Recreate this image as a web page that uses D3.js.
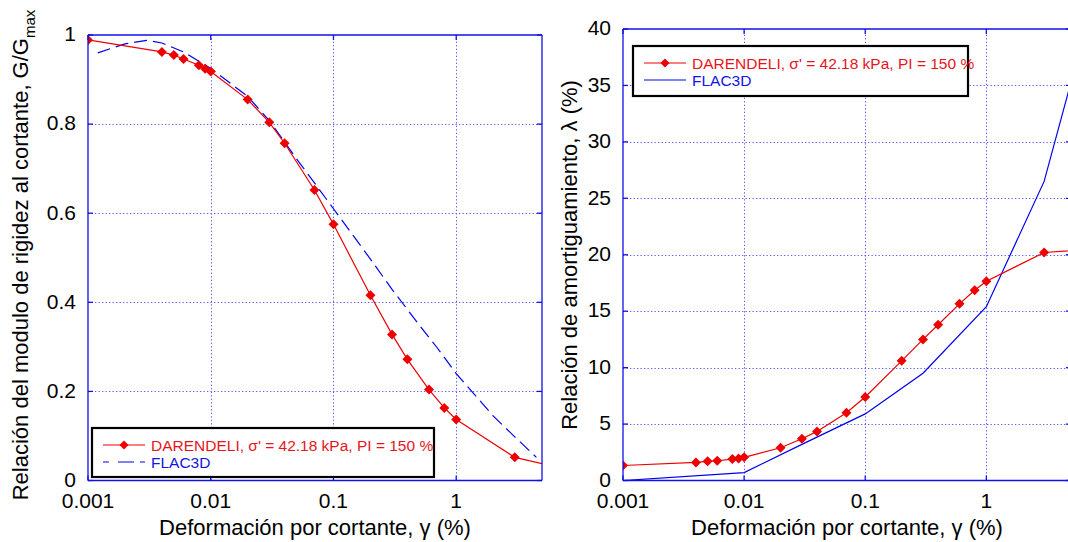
<!DOCTYPE html>
<html>
<head>
<meta charset="utf-8">
<script src="https://cdn.jsdelivr.net/npm/d3@7"></script>
<style>
  html, body { margin: 0; padding: 0; background: #fff; }
  svg { display: block; font-family: "Liberation Sans", Arial, sans-serif; }
</style>
</head>
<body>
<svg id="chart" width="1068" height="542"></svg>
<script>
// ---------- DATA ----------
const xTickValues = [0.001, 0.01, 0.1, 1];
const xTickLabels = ["0.001", "0.01", "0.1", "1"];

// Left panel: G/Gmax
const leftYTicks = [0, 0.2, 0.4, 0.6, 0.8, 1];
const leftYTickLabels = ["0", "0.2", "0.4", "0.6", "0.8", "1"];
const darendeliStrainG = [0.001, 0.004, 0.005, 0.006, 0.008, 0.009, 0.01, 0.02, 0.03, 0.04, 0.07, 0.1, 0.2, 0.3, 0.4, 0.6, 0.8, 1, 3, 10];
const darendeliG = [0.989, 0.962, 0.955, 0.946, 0.932, 0.924, 0.918, 0.855, 0.804, 0.757, 0.652, 0.575, 0.416, 0.328, 0.272, 0.204, 0.163, 0.137, 0.052, 0.019];
const flacStrainG = [0.0012, 0.002, 0.003, 0.004, 0.006, 0.01, 0.02, 0.03, 0.05, 0.07, 0.1, 0.2, 0.3, 0.5, 0.7, 1, 2, 3, 4.5];
const flacG = [0.960, 0.980, 0.988, 0.982, 0.962, 0.925, 0.862, 0.808, 0.722, 0.668, 0.610, 0.497, 0.429, 0.349, 0.298, 0.240, 0.145, 0.098, 0.052];

// Right panel: damping (%)
const rightYTicks = [0, 5, 10, 15, 20, 25, 30, 35, 40];
const rightYTickLabels = ["0", "5", "10", "15", "20", "25", "30", "35", "40"];
const darendeliStrainD = [0.001, 0.004, 0.005, 0.006, 0.008, 0.009, 0.01, 0.02, 0.03, 0.04, 0.07, 0.1, 0.2, 0.3, 0.4, 0.6, 0.8, 1, 3, 10];
const darendeliD = [1.33, 1.6, 1.7, 1.75, 1.9, 1.95, 2.05, 2.9, 3.7, 4.35, 6.0, 7.4, 10.6, 12.5, 13.8, 15.65, 16.85, 17.65, 20.2, 20.6];
const flacStrainD = [0.001, 0.01, 0.03, 0.1, 0.3, 1, 3, 10];
const flacD = [0.0, 0.7, 3.2, 5.9, 9.5, 15.4, 26.5, 47.2];

const legendLabels = ["DARENDELI, σ' = 42.18 kPa, PI = 150 %", "FLAC3D"];
const xLabel = "Deformación por cortante, γ (%)";

// ---------- STYLE ----------
const AXIS = "#1010e8";
const GRID = "#5a5aff";
const RED = "#ee0000";
const BLUE = "#0000ee";

const svg = d3.select("#chart");

function diamond(r) { return `M0,${-r}L${r},0L0,${r}L${-r},0Z`; }

function panel(cfg) {
  const x = d3.scaleLog().domain([0.001, 5]).range([cfg.x0, cfg.x1]);
  const y = d3.scaleLinear().domain(cfg.yDomain).range([cfg.y0, cfg.y1]);
  const g = svg.append("g");
  const clipId = "clip" + cfg.id;
  svg.append("clipPath").attr("id", clipId).append("rect")
    .attr("x", cfg.x0).attr("y", cfg.y1).attr("width", cfg.x1 - cfg.x0).attr("height", cfg.y0 - cfg.y1);

  // grid
  const grid = g.append("g").attr("stroke", GRID).attr("stroke-width", 1).attr("stroke-dasharray", "1.3,2.2");
  grid.selectAll(".vg").data(xTickValues.slice(1)).join("line")
    .attr("x1", d => Math.round(x(d)) + 0.5).attr("x2", d => Math.round(x(d)) + 0.5)
    .attr("y1", cfg.y0).attr("y2", cfg.y1);
  grid.selectAll(".hg").data(cfg.yTicks.slice(1, -1)).join("line")
    .attr("y1", d => Math.round(y(d)) + 0.5).attr("y2", d => Math.round(y(d)) + 0.5)
    .attr("x1", cfg.x0).attr("x2", cfg.x1);

  // data
  const plot = g.append("g").attr("clip-path", `url(#${clipId})`);
  const line = d3.line().x(d => x(d[0])).y(d => y(d[1]));
  const dData = d3.zip(cfg.dStrain, cfg.dVal);
  const fData = d3.zip(cfg.fStrain, cfg.fVal);
  plot.append("path").datum(fData).attr("d", line).attr("fill", "none")
    .attr("stroke", BLUE).attr("stroke-width", 1.2)
    .attr("stroke-dasharray", cfg.dashed ? "13,6" : null);
  plot.append("path").datum(dData).attr("d", line).attr("fill", "none")
    .attr("stroke", RED).attr("stroke-width", 1.2);
  plot.selectAll(".mk").data(dData).join("path")
    .attr("d", diamond(5)).attr("fill", RED)
    .attr("transform", d => `translate(${x(d[0])},${y(d[1])})`);

  // axes box & ticks
  const ax = g.append("g").attr("stroke", AXIS).attr("stroke-width", 1.3).attr("fill", "none");
  ax.append("line").attr("x1", cfg.x0).attr("x2", cfg.x1).attr("y1", cfg.y0).attr("y2", cfg.y0);
  ax.append("line").attr("x1", cfg.x0).attr("x2", cfg.x1).attr("y1", cfg.y1).attr("y2", cfg.y1);
  ax.append("line").attr("x1", cfg.x0).attr("x2", cfg.x0).attr("y1", cfg.y0).attr("y2", cfg.y1);
  ax.append("line").attr("x1", cfg.x1).attr("x2", cfg.x1).attr("y1", cfg.y0).attr("y2", cfg.y1);
  const tl = 5;
  xTickValues.forEach(v => {
    const px = x(v);
    ax.append("line").attr("x1", px).attr("x2", px).attr("y1", cfg.y0).attr("y2", cfg.y0 - tl);
    ax.append("line").attr("x1", px).attr("x2", px).attr("y1", cfg.y1).attr("y2", cfg.y1 + tl);
  });
  cfg.yTicks.forEach(v => {
    const py = y(v);
    ax.append("line").attr("x1", cfg.x0).attr("x2", cfg.x0 + tl).attr("y1", py).attr("y2", py);
    ax.append("line").attr("x1", cfg.x1).attr("x2", cfg.x1 - tl).attr("y1", py).attr("y2", py);
  });

  // tick labels
  const tx = g.append("g").attr("font-size", 21).attr("fill", "#000");
  tx.selectAll(".xl").data(xTickValues).join("text")
    .attr("x", d => x(d)).attr("y", 508).attr("text-anchor", "middle")
    .text((d, i) => xTickLabels[i]);
  tx.selectAll(".yl").data(cfg.yTicks).join("text")
    .attr("x", cfg.x0 - 12).attr("y", d => y(d)).attr("dy", "0.3em").attr("text-anchor", "end")
    .text((d, i) => cfg.yTickLabels[i]);

  // x label
  g.append("text").attr("x", (cfg.x0 + cfg.x1) / 2).attr("y", 535)
    .attr("text-anchor", "middle").attr("font-size", 22).text(xLabel);

  // legend
  const L = cfg.legend;
  const lg = g.append("g");
  lg.append("rect").attr("x", L.x).attr("y", L.y).attr("width", L.w).attr("height", L.h)
    .attr("fill", "#fff").attr("stroke", "#000").attr("stroke-width", 2.2);
  const r1 = L.y + 17, r2 = L.y + 34;
  lg.append("line").attr("x1", L.x + 11).attr("x2", L.x + 53).attr("y1", r1).attr("y2", r1)
    .attr("stroke", RED).attr("stroke-width", 1.2);
  lg.append("path").attr("d", diamond(4.5)).attr("fill", RED)
    .attr("transform", `translate(${L.x + 32},${r1})`);
  lg.append("line").attr("x1", L.x + 11).attr("x2", L.x + 53).attr("y1", r2).attr("y2", r2)
    .attr("stroke", BLUE).attr("stroke-width", 1.2)
    .attr("stroke-dasharray", cfg.dashed ? "6,9,16" : null);
  lg.append("text").attr("x", L.x + 59).attr("y", r1 + 5.5).attr("font-size", 15.5)
    .attr("fill", "#e8141c").text(legendLabels[0]);
  lg.append("text").attr("x", L.x + 59).attr("y", r2 + 5.5).attr("font-size", 15.5)
    .attr("fill", "#1414e8").text(legendLabels[1]);
}

panel({
  id: "L", x0: 88, x1: 542, y0: 480.5, y1: 35, yDomain: [0, 1],
  yTicks: leftYTicks, yTickLabels: leftYTickLabels,
  dStrain: darendeliStrainG, dVal: darendeliG, fStrain: flacStrainG, fVal: flacG, dashed: true,
  legend: { x: 92, y: 428, w: 342, h: 49 }
});

panel({
  id: "R", x0: 623, x1: 1071, y0: 480.5, y1: 29, yDomain: [0, 40],
  yTicks: rightYTicks, yTickLabels: rightYTickLabels,
  dStrain: darendeliStrainD, dVal: darendeliD, fStrain: flacStrainD, fVal: flacD, dashed: false,
  legend: { x: 633, y: 46, w: 335, h: 50 }
});

// y-axis labels
const yl1 = svg.append("text").attr("transform", "translate(28,255) rotate(-90)")
  .attr("text-anchor", "middle").attr("font-size", 22);
yl1.append("tspan").text("Relación del modulo de rigidez al cortante, G/G");
yl1.append("tspan").attr("font-size", 15).attr("dy", 7).text("max");

svg.append("text").attr("transform", "translate(577,255) rotate(-90)")
  .attr("text-anchor", "middle").attr("font-size", 22)
  .text("Relación de amortiguamiento, λ (%)");
</script>
</body>
</html>
